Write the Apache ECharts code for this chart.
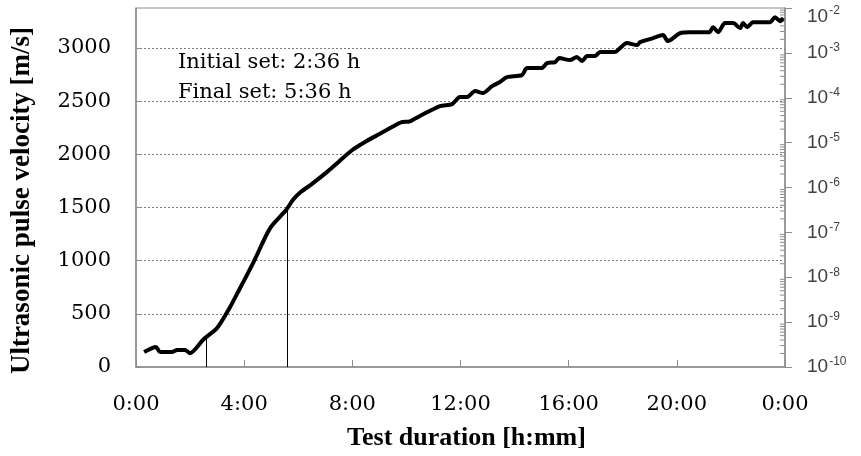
<!DOCTYPE html>
<html>
<head>
<meta charset="utf-8">
<script src="https://cdn.jsdelivr.net/npm/echarts@6/dist/echarts.min.js"></script>
<style>html,body{margin:0;padding:0;background:#fff}#c{width:861px;height:456px}</style>
</head>
<body>
<div id="c"></div>
<script>
// Test duration in hours
const timeH = [0.3, 0.74, 0.89, 1.33, 1.52, 1.81, 2.0, 2.51, 3.0, 3.48, 3.85, 4.33, 4.96, 5.55, 5.8, 6.07, 6.5, 7.0, 7.5, 8.0, 8.5, 9.0, 9.5, 9.8, 10.13, 10.5, 11.24, 11.69, 11.98, 12.24, 12.54, 12.83, 13.17, 13.46, 13.72, 14.27, 14.46, 15.0, 15.2, 15.5, 15.65, 16.05, 16.3, 16.5, 16.68, 16.97, 17.16, 17.71, 17.9, 18.15, 18.53, 18.64, 19.12, 19.49, 19.67, 20.12, 20.49, 21.2, 21.34, 21.53, 21.78, 22.08, 22.34, 22.45, 22.6, 22.82, 23.45, 23.63, 23.82, 23.93];
// Ultrasonic pulse velocity [m/s]
const velocity = [141, 188, 141, 141, 160, 160, 130, 263, 367, 564, 743, 977, 1306, 1475, 1570, 1640, 1720, 1820, 1930, 2040, 2120, 2190, 2260, 2300, 2310, 2360, 2453, 2472, 2538, 2538, 2594, 2575, 2641, 2679, 2726, 2744, 2810, 2810, 2857, 2867, 2904, 2885, 2914, 2876, 2923, 2923, 2961, 2961, 2998, 3045, 3026, 3054, 3092, 3120, 3064, 3139, 3148, 3148, 3195, 3148, 3233, 3233, 3186, 3233, 3195, 3242, 3242, 3289, 3251, 3280];
// Setting times (hours) and velocity where marker lines end
const setTimes = [2.6, 5.6];
const setVelocities = [272, 1475];
const setLabels = ['Initial set: 2:36 h', 'Final set: 5:36 h'];
// Axis ticks
const xTicksH = [0, 4, 8, 12, 16, 20, 24];
const leftTicks = [0, 500, 1000, 1500, 2000, 2500, 3000];
const rightExponents = [-10, -9, -8, -7, -6, -5, -4, -3, -2];

const minorTicks = [];
for (let d = rightExponents[0]; d < rightExponents[rightExponents.length - 1]; d++) {
  for (let k = 2; k <= 9; k++) minorTicks.push([24, d + Math.log10(k)]);
}

const axisGray = '#8c8c8c';
const serif = 'DejaVu Serif';

const chart = echarts.init(document.getElementById('c'));
chart.setOption({
  animation: false,
  grid: { left: 136, top: 8, right: 76, bottom: 89, show: true, borderColor: axisGray, borderWidth: 1,
    containLabel: false, outerBoundsMode: 'none' },
  xAxis: {
    type: 'value', min: 0, max: 24, interval: 4,
    name: 'Test duration [h:mm]', nameLocation: 'middle', nameGap: 58,
    nameTextStyle: { fontFamily: 'Liberation Serif', fontWeight: 'bold', fontSize: 26, color: '#000', padding: [0, 0, 0, 12] },
    axisLine: { lineStyle: { color: axisGray, width: 1.5 } },
    axisTick: { inside: true, length: 7, lineStyle: { color: axisGray } },
    axisLabel: { margin: 27, fontFamily: serif, fontSize: 21, color: '#000',
      formatter: v => (v % 24) + ':00' },
    splitLine: { show: false }
  },
  yAxis: [{
    type: 'value', min: 0, max: 3375, interval: 500,
    name: 'Ultrasonic pulse velocity [m/s]', nameLocation: 'middle', nameGap: 100,
    nameTextStyle: { fontFamily: 'Liberation Serif', fontWeight: 'bold', fontSize: 27, color: '#000', padding: [0, 26, 0, 0] },
    axisLine: { show: true, lineStyle: { color: axisGray, width: 1.5 } },
    axisTick: { show: true, inside: true, length: 5, lineStyle: { color: axisGray } },
    axisLabel: { margin: 25, fontFamily: serif, fontSize: 21, color: '#000', showMaxLabel: false,
      formatter: v => String(v) },
    splitLine: { show: true, showMinLine: false, showMaxLine: false, lineStyle: { color: '#7a7a7a', type: [2, 2], width: 1 } }
  }, {
    type: 'value', min: -10, max: -2, interval: 1, position: 'right',
    axisLine: { show: true, lineStyle: { color: axisGray, width: 1.5 } },
    axisTick: { show: true, inside: false, length: 7, lineStyle: { color: axisGray } },
    axisLabel: {
      margin: 22, color: '#404040',
      formatter: v => (v === -2 ? '{t|10}{u|' + v + '}' : '{b|10}{s|' + v + '}'),
      rich: {
        b: { fontFamily: 'Liberation Sans', fontSize: 19, color: '#404040', lineHeight: 22 },
        s: { fontFamily: 'Liberation Sans', fontSize: 12, color: '#404040', verticalAlign: 'top', lineHeight: 12, padding: [0, 0, 0, 1] },
        t: { fontFamily: 'Liberation Sans', fontSize: 19, color: '#404040', lineHeight: 22, padding: [18, 0, 0, 0] },
        u: { fontFamily: 'Liberation Sans', fontSize: 12, color: '#404040', verticalAlign: 'top', lineHeight: 12, padding: [8, 0, 0, 1] }
      }
    },
    splitLine: { show: false }
  }],
  graphic: [{
    type: 'text', left: 178, top: 48,
    style: { text: setLabels.join('\n'), font: '21px "DejaVu Serif"', fill: '#000', lineHeight: 30 }
  }],
  series: [{
    type: 'line', xAxisIndex: 0, yAxisIndex: 0,
    data: timeH.map((t, i) => [t, velocity[i]]),
    showSymbol: false, smooth: 0.25,
    lineStyle: { color: '#000', width: 4 },
    markLine: {
      silent: true, symbol: 'none', label: { show: false },
      lineStyle: { color: '#000', width: 1, type: 'solid' },
      data: setTimes.map((t, i) => [{ coord: [t, 0] }, { coord: [t, setVelocities[i]] }])
    },
    z: 5
  }, {
    type: 'custom', xAxisIndex: 0, yAxisIndex: 1, silent: true,
    data: minorTicks,
    renderItem: (params, api) => {
      const p = api.coord([api.value(0), api.value(1)]);
      return { type: 'line', shape: { x1: p[0] - 5, y1: p[1], x2: p[0], y2: p[1] },
        style: { stroke: axisGray, lineWidth: 1 } };
    }
  }]
});
</script>
</body>
</html>
